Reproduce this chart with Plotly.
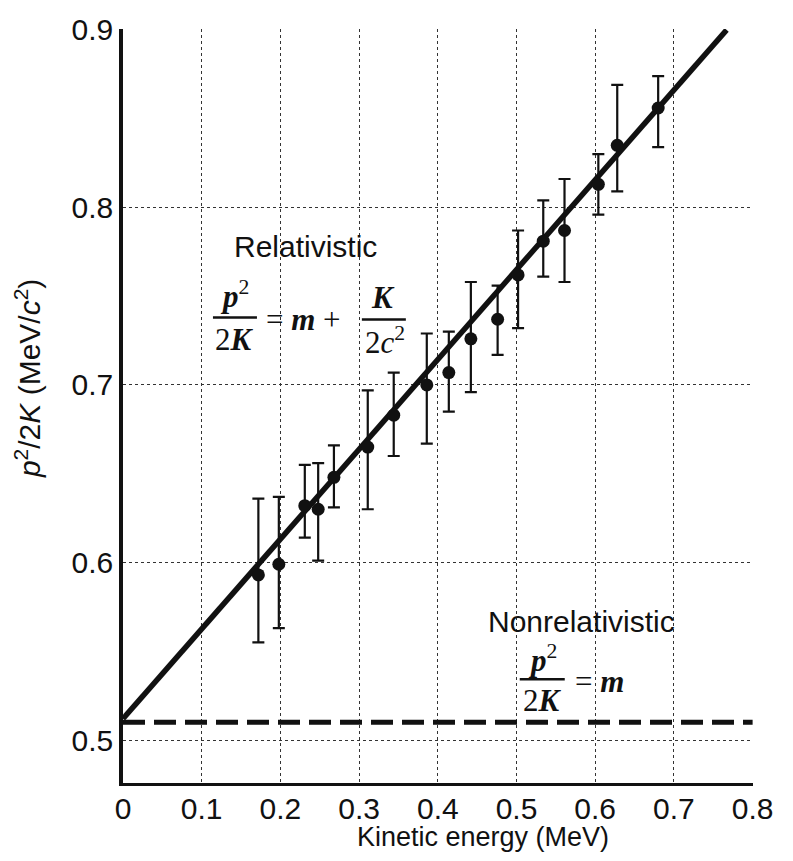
import plotly.graph_objects as go

# ---- data ----
kinetic = [0.172, 0.198, 0.231, 0.248, 0.268, 0.311, 0.344, 0.386, 0.414,
           0.442, 0.476, 0.502, 0.534, 0.561, 0.604, 0.628, 0.680]
p2_2k = [0.593, 0.599, 0.632, 0.630, 0.648, 0.665, 0.683, 0.700, 0.707,
         0.726, 0.737, 0.762, 0.781, 0.787, 0.813, 0.835, 0.856]
err_plus = [0.043, 0.038, 0.023, 0.026, 0.018, 0.032, 0.024, 0.029, 0.023,
            0.032, 0.019, 0.025, 0.023, 0.029, 0.017, 0.034, 0.018]
err_minus = [0.038, 0.036, 0.018, 0.029, 0.017, 0.035, 0.023, 0.033, 0.022,
             0.030, 0.020, 0.030, 0.020, 0.029, 0.017, 0.026, 0.022]

rel_k = [0.0, 0.767]
rel_p = [0.512, 0.900]
nonrel_k = [0.0, 0.8]
nonrel_p = [0.510, 0.510]

x_ticks = [0, 0.1, 0.2, 0.3, 0.4, 0.5, 0.6, 0.7, 0.8]
x_labels = ["0", "0.1", "0.2", "0.3", "0.4", "0.5", "0.6", "0.7", "0.8"]
y_ticks = [0.5, 0.6, 0.7, 0.8, 0.9]
y_labels = ["0.5", "0.6", "0.7", "0.8", "0.9"]

SANS = "Liberation Sans"
SERIF = "Liberation Serif"
INK = "#111111"

fig = go.Figure()
fig.add_trace(go.Scatter(x=nonrel_k, y=nonrel_p, mode="lines",
                         line=dict(color=INK, width=5, dash="22px,9px"),
                         hoverinfo="skip", showlegend=False))
fig.add_trace(go.Scatter(x=rel_k, y=rel_p, mode="lines",
                         line=dict(color=INK, width=5.5),
                         hoverinfo="skip", showlegend=False))
fig.add_trace(go.Scatter(
    x=kinetic, y=p2_2k, mode="markers",
    marker=dict(color=INK, size=13),
    error_y=dict(type="data", symmetric=False, array=err_plus,
                 arrayminus=err_minus, color=INK, thickness=2.2, width=6),
    showlegend=False))

ann = []
def add_text(x, y, text, size=30, family=SANS, xanchor="center", yanchor="middle"):
    ann.append(dict(x=x, y=y, xref="x", yref="y", text=text, showarrow=False,
                    font=dict(family=family, size=size, color=INK),
                    xanchor=xanchor, yanchor=yanchor))

add_text(0.2324, 0.7779, "Relativistic")
add_text(0.1422, 0.7508, "<b><i>p</i></b><sup>2</sup>", family=SERIF, size=31)
add_text(0.1422, 0.7256, "2<b><i>K</i></b>", family=SERIF, size=31)
add_text(0.2292, 0.7370, "= <b><i>m</i></b> +", family=SERIF, size=31)
add_text(0.3302, 0.7490, "<b><i>K</i></b>", family=SERIF, size=31)
add_text(0.3327, 0.7250, "2<i>c</i><sup>2</sup>", family=SERIF, size=31)

add_text(0.5829, 0.5668, "Nonrelativistic")
add_text(0.5335, 0.5460, "<b><i>p</i></b><sup>2</sup>", family=SERIF, size=31)
add_text(0.5333, 0.5225, "2<b><i>K</i></b>", family=SERIF, size=31)
add_text(0.6057, 0.5330, "= <b><i>m</i></b>", family=SERIF, size=31)

# axis titles
ann.append(dict(x=0.571, y=-0.071, xref="paper", yref="paper",
                text="Kinetic energy (MeV)", showarrow=False,
                font=dict(family=SANS, size=27, color=INK),
                xanchor="center", yanchor="middle"))
ann.append(dict(x=-0.1508, y=0.537, xref="paper", yref="paper",
                text="<i>p</i><sup>2</sup>/2<i>K</i> (MeV/<i>c</i><sup>2</sup>)",
                showarrow=False, textangle=-90,
                font=dict(family=SANS, size=30, color=INK),
                xanchor="center", yanchor="middle"))

shapes = [
    dict(type="line", xref="x", yref="y", x0=0.1143, x1=0.1702, y0=0.738, y1=0.738,
         line=dict(color=INK, width=2.5)),
    dict(type="line", xref="x", yref="y", x0=0.3035, x1=0.3594, y0=0.7369, y1=0.7369,
         line=dict(color=INK, width=2.5)),
    dict(type="line", xref="x", yref="y", x0=0.5041, x1=0.5613, y0=0.5343, y1=0.5343,
         line=dict(color=INK, width=2.5)),
]

# page body has an 8px margin, so the figure is sized/margined to compensate
fig.update_layout(
    width=777, height=845,
    margin=dict(l=115, r=32, t=21, b=70),
    paper_bgcolor="white", plot_bgcolor="white",
    annotations=ann, shapes=shapes,
    xaxis=dict(range=[0, 0.8005], tickvals=x_ticks, ticktext=x_labels,
               showgrid=True, gridcolor="#333333", griddash="dot", gridwidth=1,
               showline=True, linecolor=INK, linewidth=3, zeroline=False,
               ticks="", ticklabelstandoff=-3, automargin=False,
               tickfont=dict(family=SANS, size=30, color=INK)),
    yaxis=dict(range=[0.4758, 0.9005], tickvals=y_ticks, ticktext=y_labels,
               showgrid=True, gridcolor="#333333", griddash="dot", gridwidth=1,
               showline=True, linecolor=INK, linewidth=3.5, zeroline=False,
               ticks="", ticklabelstandoff=0, automargin=False,
               tickfont=dict(family=SANS, size=30, color=INK)),
)

fig.write_html("out.html")
